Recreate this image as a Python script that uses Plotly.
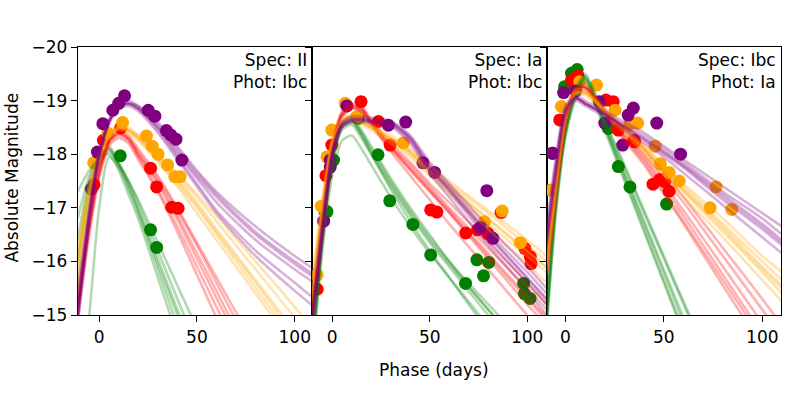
import plotly.graph_objects as go
from plotly.subplots import make_subplots

# phase grid that the model light curves are sampled on
PHASE = [-11, -5, 0, 5, 10, 15, 20, 30, 40, 50, 60, 80, 100, 110]

# ---- panel 1: Spec II / Phot Ibc ----
P1_GREEN_X = [10.8, 26.3, 29.4]
P1_GREEN_Y = [-17.97, -16.59, -16.26]
P1_RED_X = [-2.6, 2.2, 11.0, 26.3, 29.4, 37.1, 40.4]
P1_RED_Y = [-17.43, -18.26, -18.49, -17.74, -17.39, -17.01, -16.99]
P1_ORANGE_X = [-2.8, 4.5, 12.0, 24.2, 27.1, 30.1, 35.0, 38.7, 41.4]
P1_ORANGE_Y = [-17.84, -18.39, -18.59, -18.34, -18.15, -18.0, -17.80, -17.58, -17.58]
P1_PURPLE_X = [-4.0, -0.9, 1.9, 7.0, 10.0, 13.0, 25.1, 28.5, 34.4, 36.6, 39.3, 42.3]
P1_PURPLE_Y = [-17.35, -18.04, -18.57, -18.82, -18.95, -19.09, -18.82, -18.71,
               -18.44, -18.36, -18.28, -17.89]

P1_GREEN_MODELS = [
    [-16.8, -17.6, -17.95, -18.1, -17.8, -17.4, -16.95, -15.95, -15.0, -14.0, -13.0, -11.0, -9.0, -8.0],
    [-16.0, -17.4, -17.9, -18.15, -17.85, -17.5, -17.1, -16.2, -15.3, -14.4, -13.5, -11.7, -9.9, -9.0],
    [-17.3, -17.7, -17.9, -18.0, -17.7, -17.25, -16.8, -15.7, -14.6, -13.5, -12.4, -10.2, -8.0, -7.0],
    [-13.0, -15.0, -17.0, -17.95, -17.75, -17.35, -16.9, -15.85, -14.8, -13.75, -12.7, -10.6, -8.5, -7.5],
    [-15.5, -17.2, -17.8, -18.05, -17.8, -17.5, -17.15, -16.35, -15.55, -14.75, -13.95, -12.35, -10.75, -9.95],
    [-16.4, -17.5, -17.9, -18.1, -17.82, -17.45, -17.0, -16.05, -15.1, -14.15, -13.2, -11.3, -9.4, -8.45],
]
P1_RED_MODELS = [
    [-15.3, -16.7, -17.7, -18.25, -18.4, -18.3, -18.0, -17.5, -16.85, -16.15, -15.45, -14.0, -12.6, -11.9],
    [-15.0, -16.6, -17.6, -18.2, -18.35, -18.25, -17.95, -17.35, -16.65, -15.9, -15.15, -13.65, -12.15, -11.4],
    [-15.5, -16.9, -17.8, -18.3, -18.45, -18.35, -18.1, -17.6, -17.0, -16.35, -15.7, -14.4, -13.1, -12.45],
    [-14.9, -16.5, -17.55, -18.15, -18.3, -18.2, -17.9, -17.3, -16.55, -15.75, -14.95, -13.35, -11.75, -10.95],
    [-15.2, -16.75, -17.7, -18.25, -18.4, -18.3, -18.05, -17.55, -16.95, -16.3, -15.6, -14.2, -12.8, -12.1],
    [-15.1, -16.65, -17.65, -18.22, -18.38, -18.28, -18.0, -17.45, -16.78, -16.05, -15.32, -13.85, -12.4, -11.65],
]
P1_ORANGE_MODELS = [
    [-16.0, -17.3, -17.95, -18.35, -18.5, -18.45, -18.3, -17.95, -17.55, -17.1, -16.6, -15.65, -14.7, -14.2],
    [-15.7, -17.1, -17.85, -18.3, -18.45, -18.4, -18.25, -17.85, -17.4, -16.9, -16.4, -15.4, -14.4, -13.9],
    [-16.3, -17.45, -18.0, -18.4, -18.55, -18.5, -18.35, -18.0, -17.6, -17.2, -16.75, -15.85, -14.95, -14.5],
    [-15.9, -17.2, -17.9, -18.3, -18.5, -18.45, -18.3, -17.9, -17.45, -17.0, -16.5, -15.5, -14.5, -14.0],
    [-16.1, -17.35, -17.95, -18.35, -18.5, -18.45, -18.35, -18.0, -17.65, -17.25, -16.85, -16.0, -15.15, -14.7],
    [-16.0, -17.25, -17.92, -18.33, -18.48, -18.43, -18.3, -17.92, -17.5, -17.05, -16.55, -15.6, -14.6, -14.1],
]
P1_PURPLE_MODELS = [
    [-15.0, -16.9, -18.0, -18.6, -18.9, -18.95, -18.85, -18.5, -18.0, -17.55, -17.1, -16.4, -15.85, -15.6],
    [-14.8, -16.7, -17.9, -18.55, -18.85, -18.9, -18.8, -18.4, -17.9, -17.4, -16.9, -16.1, -15.45, -15.15],
    [-15.2, -17.0, -18.05, -18.65, -18.95, -19.0, -18.9, -18.6, -18.15, -17.7, -17.3, -16.65, -16.1, -15.85],
    [-14.9, -16.8, -17.95, -18.6, -18.9, -18.95, -18.85, -18.45, -17.95, -17.45, -16.95, -16.2, -15.6, -15.3],
    [-15.1, -16.95, -18.0, -18.6, -18.9, -18.95, -18.9, -18.55, -18.1, -17.65, -17.25, -16.55, -16.0, -15.75],
    [-15.0, -16.85, -17.98, -18.6, -18.9, -18.93, -18.85, -18.5, -18.05, -17.6, -17.2, -16.5, -15.95, -15.7],
]

# ---- panel 2: Spec Ia / Phot Ibc ----
P2_GREEN_X = [-3.7, -2.7, 0.7, 13.3, 23.5, 29.5, 41.4, 50.5, 68.4, 74.2, 77.6, 80.3, 98.2, 98.6, 101.5]
P2_GREEN_Y = [-16.92, -16.93, -17.89, -18.67, -17.99, -17.13, -16.69, -16.12, -15.59, -16.03,
              -15.73, -15.98, -15.59, -15.40, -15.31]
P2_RED_X = [-7.7, -3.2, -0.2, 14.8, 23.7, 29.7, 50.5, 53.7, 68.5, 74.5, 79.9, 86.6, 98.9, 101.6, 102.0]
P2_RED_Y = [-15.48, -17.60, -18.17, -18.98, -18.61, -18.17, -16.96, -16.92, -16.53, -16.59,
            -16.52, -16.91, -16.24, -16.09, -15.96]
P2_ORANGE_X = [-7.7, -5.6, -2.7, -0.2, 6.7, 12.6, 36.5, 78.1, 87.2, 96.5]
P2_ORANGE_Y = [-15.75, -17.03, -17.95, -18.45, -18.95, -18.70, -18.21, -16.74, -16.94, -16.35]
P2_PURPLE_X = [-4.4, -1.0, -1.0, 7.5, 28.8, 37.7, 46.5, 52.5, 79.3, 75.9, 82.4]
P2_PURPLE_Y = [-16.75, -17.76, -17.89, -18.90, -18.54, -18.60, -17.84, -17.66, -17.32, -16.63, -16.43]

P2_GREEN_MODELS = [
    [-14.0, -16.4, -17.8, -18.45, -18.55, -18.3, -18.0, -17.4, -16.85, -16.35, -15.9, -15.0, -14.2, -13.8],
    [-13.8, -16.2, -17.6, -18.25, -18.35, -18.1, -17.8, -17.2, -16.65, -16.15, -15.7, -14.8, -14.0, -13.6],
    [-14.2, -16.6, -17.95, -18.6, -18.7, -18.45, -18.15, -17.55, -17.0, -16.5, -16.0, -15.1, -14.3, -13.9],
    [-14.0, -16.4, -17.85, -18.5, -18.6, -18.35, -18.0, -17.35, -16.75, -16.2, -15.7, -14.7, -13.8, -13.3],
    [-14.1, -16.5, -17.9, -18.55, -18.65, -18.4, -18.1, -17.5, -16.95, -16.45, -16.0, -15.2, -14.45, -14.1],
    [-14.0, -16.45, -17.88, -18.52, -18.62, -18.38, -18.05, -17.45, -16.9, -16.4, -15.95, -15.1, -14.3, -13.95],
]
P2_RED_MODELS = [
    [-14.8, -16.8, -18.1, -18.75, -18.9, -18.85, -18.6, -18.15, -17.75, -17.35, -16.95, -16.15, -15.35, -14.95],
    [-14.6, -16.6, -18.0, -18.7, -18.85, -18.8, -18.55, -18.05, -17.6, -17.15, -16.7, -15.85, -15.0, -14.6],
    [-15.0, -17.0, -18.2, -18.8, -18.95, -18.9, -18.65, -18.2, -17.85, -17.45, -17.1, -16.35, -15.6, -15.2],
    [-14.7, -16.7, -18.05, -18.7, -18.85, -18.8, -18.55, -18.1, -17.7, -17.3, -16.9, -16.05, -15.2, -14.8],
    [-14.9, -16.9, -18.15, -18.75, -18.9, -18.85, -18.6, -18.15, -17.8, -17.4, -17.0, -16.25, -15.5, -15.1],
    [-14.8, -16.8, -18.1, -18.74, -18.88, -18.84, -18.58, -18.12, -17.72, -17.32, -16.92, -16.1, -15.3, -14.9],
]
P2_ORANGE_MODELS = [
    [-15.2, -17.0, -18.2, -18.6, -18.7, -18.6, -18.5, -18.3, -18.05, -17.7, -17.4, -16.8, -16.2, -15.9],
    [-15.0, -16.8, -18.1, -18.55, -18.65, -18.55, -18.45, -18.2, -17.95, -17.6, -17.25, -16.6, -15.95, -15.6],
    [-15.4, -17.2, -18.3, -18.65, -18.75, -18.65, -18.55, -18.35, -18.1, -17.8, -17.5, -16.95, -16.4, -16.1],
    [-15.1, -16.9, -18.15, -18.6, -18.7, -18.6, -18.5, -18.25, -18.0, -17.65, -17.3, -16.7, -16.1, -15.8],
    [-15.3, -17.1, -18.25, -18.6, -18.7, -18.6, -18.5, -18.3, -18.05, -17.75, -17.45, -16.9, -16.3, -16.0],
    [-15.2, -17.0, -18.2, -18.6, -18.7, -18.6, -18.5, -18.28, -18.02, -17.7, -17.38, -16.78, -16.18, -15.88],
]
P2_PURPLE_MODELS = [
    [-14.7, -16.6, -18.0, -18.55, -18.65, -18.65, -18.62, -18.58, -18.3, -17.75, -17.35, -16.5, -15.7, -15.3],
    [-14.5, -16.4, -17.9, -18.5, -18.6, -18.6, -18.58, -18.52, -18.2, -17.65, -17.2, -16.3, -15.45, -15.0],
    [-14.9, -16.8, -18.1, -18.6, -18.7, -18.7, -18.68, -18.62, -18.35, -17.85, -17.45, -16.65, -15.9, -15.5],
    [-14.6, -16.5, -17.95, -18.5, -18.6, -18.62, -18.6, -18.55, -18.25, -17.7, -17.3, -16.4, -15.6, -15.2],
    [-14.8, -16.7, -18.05, -18.55, -18.65, -18.66, -18.64, -18.6, -18.32, -17.8, -17.4, -16.55, -15.8, -15.4],
    [-14.7, -16.6, -18.0, -18.55, -18.64, -18.64, -18.62, -18.57, -18.28, -17.74, -17.34, -16.48, -15.68, -15.28],
]

# ---- panel 3: Spec Ibc / Phot Ia ----
P3_GREEN_X = [-6.5, -0.4, 3.1, 6.0, 21.8, 26.9, 32.8, 51.4]
P3_GREEN_Y = [-18.02, -19.26, -19.51, -19.58, -18.48, -17.77, -17.39, -17.07]
P3_RED_X = [-6.5, -2.9, 3.1, 6.5, 20.6, 24.3, 26.9, 34.8, 35.2, 44.5, 48.0, 50.5, 52.7]
P3_RED_Y = [-18.02, -18.64, -19.38, -19.46, -19.01, -18.98, -18.45, -18.26, -18.23, -17.44,
            -17.53, -17.49, -17.31]
P3_ORANGE_X = [-7.3, -2.0, 7.3, 15.8, 25.2, 32.7, 36.7, 45.6, 48.3, 52.7, 57.8, 76.5, 73.5, 84.5]
P3_ORANGE_Y = [-17.33, -18.89, -19.35, -19.29, -18.82, -18.56, -18.58, -18.15, -17.82, -17.66,
               -17.50, -17.39, -17.0, -16.97]
P3_PURPLE_X = [-6.6, -0.9, 5.3, 17.2, 20.0, 29.1, 31.9, 34.5, 46.4, 58.5]
P3_PURPLE_Y = [-18.02, -19.15, -19.18, -18.98, -18.58, -18.17, -18.73, -18.86, -18.58, -18.0]

P3_GREEN_MODELS = [
    [-14.2, -17.0, -18.4, -19.1, -19.45, -19.05, -18.55, -17.65, -16.75, -15.85, -14.95, -13.2, -11.4, -10.5],
    [-14.0, -16.8, -18.3, -19.0, -19.35, -18.95, -18.45, -17.5, -16.55, -15.6, -14.65, -12.8, -10.9, -10.0],
    [-14.4, -17.2, -18.5, -19.2, -19.5, -19.15, -18.65, -17.8, -16.95, -16.1, -15.25, -13.6, -11.9, -11.05],
    [-14.1, -16.9, -18.35, -19.05, -19.4, -19.0, -18.5, -17.55, -16.6, -15.65, -14.7, -12.85, -11.0, -10.1],
    [-14.3, -17.1, -18.45, -19.15, -19.45, -19.1, -18.6, -17.75, -16.9, -16.05, -15.2, -13.5, -11.8, -10.95],
    [-14.2, -17.0, -18.4, -19.1, -19.42, -19.05, -18.55, -17.62, -16.7, -15.78, -14.85, -13.0, -11.15, -10.25],
]
P3_RED_MODELS = [
    [-15.4, -17.3, -18.6, -19.2, -19.25, -19.05, -18.8, -18.35, -17.95, -17.45, -16.95, -15.9, -14.85, -14.3],
    [-15.2, -17.1, -18.5, -19.15, -19.2, -19.0, -18.75, -18.25, -17.8, -17.25, -16.7, -15.55, -14.4, -13.8],
    [-15.6, -17.5, -18.7, -19.25, -19.3, -19.1, -18.85, -18.45, -18.1, -17.65, -17.2, -16.25, -15.3, -14.8],
    [-15.3, -17.2, -18.55, -19.2, -19.25, -19.05, -18.8, -18.3, -17.85, -17.3, -16.75, -15.65, -14.55, -14.0],
    [-15.5, -17.4, -18.65, -19.2, -19.25, -19.05, -18.8, -18.4, -18.0, -17.55, -17.1, -16.1, -15.1, -14.6],
    [-15.4, -17.3, -18.6, -19.2, -19.24, -19.04, -18.8, -18.32, -17.9, -17.38, -16.85, -15.75, -14.65, -14.1],
]
P3_ORANGE_MODELS = [
    [-15.6, -17.4, -18.7, -19.15, -19.15, -19.0, -18.8, -18.45, -18.1, -17.7, -17.35, -16.65, -15.9, -15.55],
    [-15.4, -17.2, -18.6, -19.1, -19.1, -18.95, -18.75, -18.4, -18.0, -17.6, -17.2, -16.45, -15.65, -15.25],
    [-15.8, -17.6, -18.8, -19.2, -19.2, -19.05, -18.85, -18.5, -18.15, -17.8, -17.45, -16.8, -16.1, -15.8],
    [-15.5, -17.3, -18.65, -19.1, -19.15, -19.0, -18.8, -18.45, -18.05, -17.65, -17.3, -16.55, -15.8, -15.4],
    [-15.7, -17.5, -18.75, -19.15, -19.15, -19.0, -18.8, -18.5, -18.15, -17.75, -17.4, -16.7, -16.0, -15.65],
    [-15.6, -17.4, -18.7, -19.13, -19.14, -18.99, -18.79, -18.45, -18.08, -17.68, -17.32, -16.6, -15.85, -15.5],
]
P3_PURPLE_MODELS = [
    [-16.0, -17.7, -18.8, -19.05, -18.95, -18.85, -18.75, -18.5, -18.3, -18.05, -17.8, -17.25, -16.7, -16.4],
    [-15.8, -17.5, -18.7, -19.0, -18.9, -18.8, -18.7, -18.45, -18.2, -17.95, -17.65, -17.05, -16.45, -16.15],
    [-16.2, -17.9, -18.9, -19.1, -19.0, -18.9, -18.8, -18.6, -18.4, -18.15, -17.9, -17.4, -16.9, -16.65],
    [-15.9, -17.6, -18.75, -19.05, -18.95, -18.85, -18.75, -18.5, -18.25, -18.0, -17.75, -17.15, -16.6, -16.3],
    [-16.1, -17.8, -18.85, -19.05, -18.95, -18.85, -18.75, -18.55, -18.35, -18.1, -17.85, -17.3, -16.8, -16.5],
    [-16.0, -17.7, -18.8, -19.05, -18.94, -18.84, -18.74, -18.52, -18.28, -18.03, -17.78, -17.2, -16.65, -16.35],
]

LABELS = ["Spec: II<br>Phot: Ibc", "Spec: Ia<br>Phot: Ibc", "Spec: Ibc<br>Phot: Ia"]
X_RANGES = [[-10.8, 109], [-10.2, 110], [-9.5, 109.5]]

COLORS = {"green": "0,128,0", "red": "255,0,0", "orange": "255,165,0",
          "purple": "128,0,128"}

panels = [
    {"green": (P1_GREEN_X, P1_GREEN_Y, P1_GREEN_MODELS),
     "red": (P1_RED_X, P1_RED_Y, P1_RED_MODELS),
     "orange": (P1_ORANGE_X, P1_ORANGE_Y, P1_ORANGE_MODELS),
     "purple": (P1_PURPLE_X, P1_PURPLE_Y, P1_PURPLE_MODELS)},
    {"green": (P2_GREEN_X, P2_GREEN_Y, P2_GREEN_MODELS),
     "red": (P2_RED_X, P2_RED_Y, P2_RED_MODELS),
     "orange": (P2_ORANGE_X, P2_ORANGE_Y, P2_ORANGE_MODELS),
     "purple": (P2_PURPLE_X, P2_PURPLE_Y, P2_PURPLE_MODELS)},
    {"green": (P3_GREEN_X, P3_GREEN_Y, P3_GREEN_MODELS),
     "red": (P3_RED_X, P3_RED_Y, P3_RED_MODELS),
     "orange": (P3_ORANGE_X, P3_ORANGE_Y, P3_ORANGE_MODELS),
     "purple": (P3_PURPLE_X, P3_PURPLE_Y, P3_PURPLE_MODELS)},
]

FONT = "DejaVu Sans"

fig = make_subplots(rows=1, cols=3, shared_yaxes=True, horizontal_spacing=0)

for i, panel in enumerate(panels):
    col = i + 1
    # observed points sit under the model curves
    for name in ["green", "red", "orange", "purple"]:
        xs, ys, _ = panel[name]
        fig.add_trace(go.Scatter(x=xs, y=ys, mode="markers",
                                 marker=dict(color="rgb(" + COLORS[name] + ")",
                                             size=13, line=dict(width=0)),
                                 showlegend=False, hoverinfo="skip"),
                      row=1, col=col)
    for name in ["green", "red", "orange", "purple"]:
        _, _, models = panel[name]
        for m in models:
            fig.add_trace(go.Scatter(x=PHASE, y=m, mode="lines",
                                     line=dict(color="rgba(" + COLORS[name] + ",0.3)",
                                               width=2.6, shape="spline",
                                               smoothing=0.7),
                                     showlegend=False, hoverinfo="skip"),
                          row=1, col=col)

    sfx = "" if col == 1 else str(col)
    fig.add_annotation(text=LABELS[i], xref="x" + sfx + " domain",
                       yref="y" + sfx + " domain",
                       x=1, y=1, xanchor="right", yanchor="top", xshift=-3,
                       yshift=-1, align="right", showarrow=False,
                       font=dict(family=FONT, size=17, color="black"))

    fig.update_xaxes(range=X_RANGES[i], tickvals=[0, 50, 100], ticks="outside",
                     ticklen=6, tickwidth=1.3, tickcolor="black", showline=True,
                     linecolor="black", linewidth=1.3, mirror=True,
                     showgrid=False, zeroline=False, automargin=False,
                     tickfont=dict(family=FONT, size=17, color="black"),
                     row=1, col=col)
    fig.update_yaxes(range=[-15, -20], tickvals=[-20, -19, -18, -17, -16, -15],
                     ticks="outside", ticklen=6, tickwidth=1.3, tickcolor="black",
                     showline=True, linecolor="black", linewidth=1.3, mirror=True,
                     showgrid=False, zeroline=False, showticklabels=(col == 1),
                     automargin=False,
                     tickfont=dict(family=FONT, size=17, color="black"),
                     row=1, col=col)

fig.add_annotation(text="Phase (days)", xref="paper", yref="paper", x=0.506,
                   y=-0.205, xanchor="center", yanchor="middle", showarrow=False,
                   font=dict(family=FONT, size=17, color="black"))
fig.add_annotation(text="Absolute Magnitude", xref="paper", yref="paper",
                   x=-0.0945, y=0.511, xanchor="center", yanchor="middle",
                   textangle=-90, showarrow=False,
                   font=dict(family=FONT, size=17, color="black"))

fig.update_layout(width=789, height=395,
                  margin=dict(l=78, r=8, t=47, b=80, autoexpand=False),
                  plot_bgcolor="white", paper_bgcolor="white",
                  showlegend=False)

# page body has a default 8px margin; drop it so the figure fills the window
fig.write_html("out.html", config={"displayModeBar": False},
               post_script="document.body.style.margin = '0';")
